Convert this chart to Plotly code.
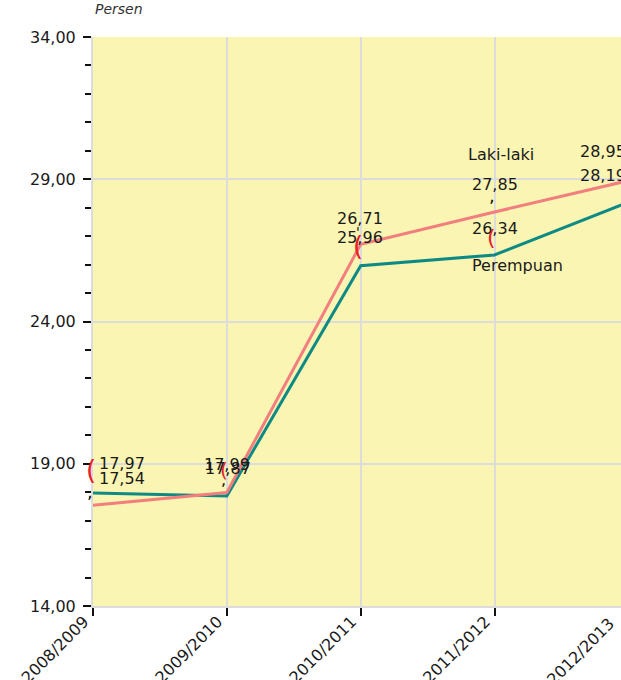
import plotly.graph_objects as go

# Tahun ajaran (school years) and the two series, in percent
years = ["2008/2009", "2009/2010", "2010/2011", "2011/2012", "2012/2013"]
laki_laki = [17.54, 17.99, 26.71, 27.85, 28.95]
perempuan = [17.97, 17.87, 25.96, 26.34, 28.19]

FONT = "DejaVu Sans"
PINK = "#F27E7E"
TEAL = "#0D8A84"
W, H = 621, 680
ML, MT, MB = 93, 37, 74
PLOT_W = W - ML
PLOT_H = H - MT - MB
X_MAX = 3.945          # last school year sits just past the right edge
Y_MIN, Y_MAX = 14, 34


def fmt(v):
    return f"{v:.2f}".replace(".", ",")


def px_x(xd):
    return ML + xd / X_MAX * PLOT_W


def paper_from_px(px, py):
    return (px - ML) / PLOT_W, 1 - (py - MT) / PLOT_H


xs = list(range(len(years)))

fig = go.Figure()
fig.add_trace(go.Scatter(x=xs, y=perempuan, mode="lines", name="Perempuan",
                         line=dict(color=TEAL, width=3), hoverinfo="skip"))
fig.add_trace(go.Scatter(x=xs, y=laki_laki, mode="lines", name="Laki-laki",
                         line=dict(color=PINK, width=3), hoverinfo="skip"))

ann = []
lab_font = dict(family=FONT, size=16, color="#1a1a1a")


def point_label(i, v, text, xanchor, dx, dy, font):
    # anchors past the visible range are pulled to the edge, keeping the pixel offset
    xa = min(i, X_MAX)
    shift = dx + (px_x(i) - px_x(xa))
    return dict(x=xa, y=v, xref="x", yref="y", text=text, showarrow=False,
                xanchor=xanchor, yanchor="middle", xshift=shift, yshift=dy,
                font=font)


# value labels: (xanchor, dx px, dy px above the point)
laki_pos = [("left", 4, 27), ("center", 0, 28), ("center", -1, 26),
            ("center", 0, 27), ("left", -50, 29)]
per_pos = [("left", 4, 30), ("center", 1, 27), ("center", -1, 28),
           ("center", 0, 26), ("left", -50, 27)]
for series, pos in ((laki_laki, laki_pos), (perempuan, per_pos)):
    for i, (v, (xa, dx, dy)) in enumerate(zip(series, pos)):
        ann.append(point_label(i, v, fmt(v), xa, dx, dy, lab_font))

# series names next to 2011/2012
ann.append(point_label(3, laki_laki[3], "Laki-laki", "center", 6, 57, lab_font))
ann.append(point_label(3, perempuan[3], "Perempuan", "center", 23, -11, lab_font))

# small callout marks beside the value labels
marks = [
    (0, perempuan[0], "(", "#e8202a", 26, -2, 23),
    (0, perempuan[0], ",", "#111111", 18, -3, 2),
    (1, laki_laki[1], "(", "#e8202a", 20, -3, 22),
    (1, laki_laki[1], ",", "#111111", 16, -3, 13),
    (2, laki_laki[2], "(", "#e8202a", 26, -3, -2),
    (2, laki_laki[2], "'", "#111111", 14, -3, 12),
    (3, laki_laki[3], ",", "#111111", 18, -3, 16),
    (3, perempuan[3], "(", "#e8202a", 22, -3, 17),
]
for i, v, t, c, s, dx, dy in marks:
    ann.append(point_label(i, v, t, "center", dx, dy,
                           dict(family=FONT, size=s, color=c)))

# last school-year label sits past the visible axis range
px_last = min(px_x(4), W - 1)
xp, yp = paper_from_px(px_last + 1, 611)
ann.append(dict(x=xp, y=yp, xref="paper", yref="paper", text=years[4],
                textangle=-45, showarrow=False, xanchor="right", yanchor="top",
                font=dict(family=FONT, size=16, color="#1a1a1a")))

# unit caption above the plot
xp, yp = paper_from_px(ML, 19)
ann.append(dict(x=xp, y=yp, xref="paper", yref="paper", text="Persen",
                showarrow=False, xanchor="left", yanchor="bottom",
                font=dict(family=FONT, size=14, color="#333333", style="italic")))

fig.update_layout(
    width=W, height=H,
    margin=dict(l=ML, r=0, t=MT, b=MB, pad=0),
    paper_bgcolor="white",
    plot_bgcolor="#FAF5B3",
    showlegend=False,
    separators=",.",
    annotations=ann,
    xaxis=dict(
        range=[0, X_MAX], tickvals=xs[:4], ticktext=years[:4],
        tickangle=-45, ticks="outside", ticklen=8, tickcolor="#111111",
        tickwidth=1.5, automargin=False, ticklabelstandoff=-10,
        ticklabelshift=-9,
        showgrid=True, gridcolor="#dcdcdc", gridwidth=2,
        showline=True, linecolor="#dcdcdc", linewidth=2,
        zeroline=False,
        tickfont=dict(family=FONT, size=16, color="#1a1a1a"),
    ),
    yaxis=dict(
        range=[Y_MIN, Y_MAX], tick0=14, dtick=5, tickformat=".2f",
        ticks="outside", ticklen=8, tickcolor="#111111", tickwidth=1.5,
        minor=dict(dtick=1, ticks="outside", ticklen=6, tickcolor="#111111",
                   showgrid=False),
        showgrid=True, gridcolor="#dcdcdc", gridwidth=2,
        showline=True, linecolor="#dcdcdc", linewidth=2,
        zeroline=False, ticklabelstandoff=4, automargin=False,
        tickfont=dict(family=FONT, size=16, color="#1a1a1a"),
    ),
)

fig.write_html("out.html")
